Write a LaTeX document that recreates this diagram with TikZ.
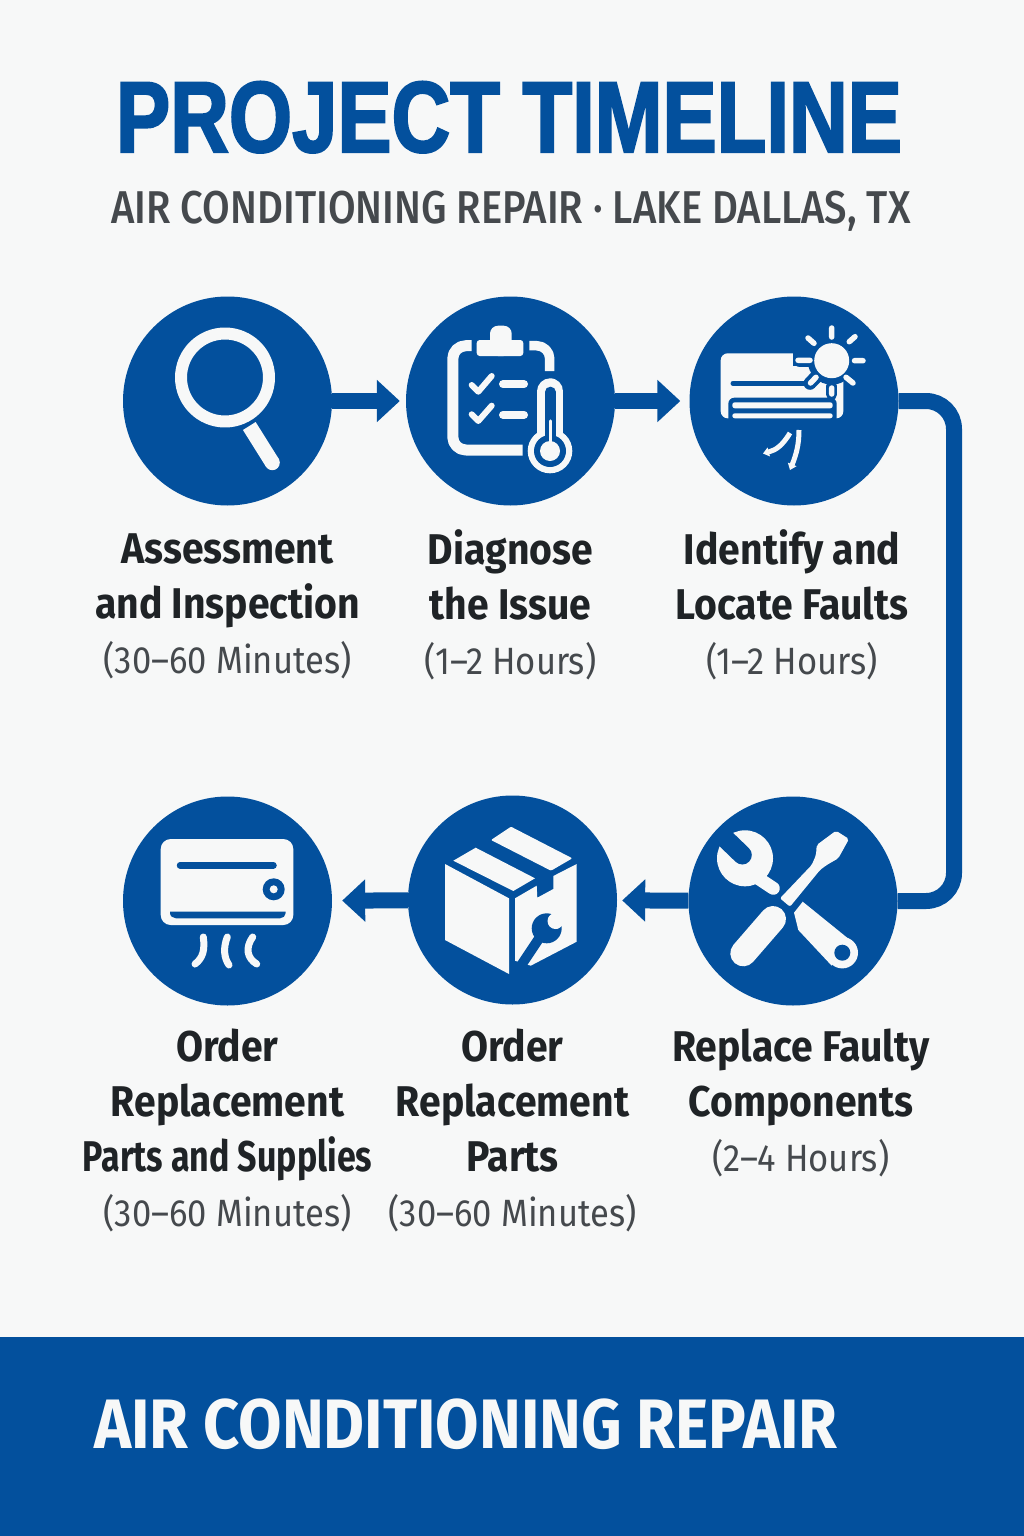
\documentclass[tikz,border=0pt]{standalone}
\usepackage{fontspec}
\usetikzlibrary{arrows.meta,positioning}
\definecolor{brand}{HTML}{03509D}
\definecolor{paper}{HTML}{F7F8F8}
\definecolor{ink}{HTML}{1F2326}
\definecolor{subink}{HTML}{45494D}
\newfontfamily\titlefont[FakeStretch=0.805,FakeBold=2]{Liberation Sans}
\newfontfamily\bannerfont[FakeStretch=0.90]{Fira Sans}
\newfontfamily\subfont[FakeStretch=0.87]{Fira Sans Medium}
\newfontfamily\labelfont[FakeStretch=0.91]{Fira Sans}
\newfontfamily\tightfont[FakeStretch=0.79]{Fira Sans}
\newcommand{\timing}[1]{{\mdseries\color{subink}\fontsize{38}{55}\selectfont #1}}

\begin{document}
\begin{tikzpicture}[x=1pt,y=-1pt]
      \tikzstyle{stage} = [circle, fill=brand, inner sep=0pt, minimum size=209pt]
      \tikzstyle{flow} = [draw=brand, line width=16pt, -{Triangle[length=23pt,width=41pt]}]
      \tikzstyle{elbow} = [draw=brand, line width=16pt, rounded corners=28pt]
      \tikzstyle{caption} = [align=center, text=ink, font=\labelfont\bfseries\fontsize{43}{55}\selectfont, inner sep=0pt]
      \tikzstyle{glyph} = [fill=paper]
      \tikzstyle{stroke} = [draw=paper, line cap=round, line join=round]
      \tikzstyle{cut} = [draw=brand, line cap=round, line join=round]

      \fill[paper] (0,0) rectangle (1024,1536);
      \fill[brand] (0,1337) rectangle (1024,1536);

      \node[anchor=base, text=brand, font=\titlefont\bfseries\fontsize{101}{110}\selectfont, inner sep=0pt] (title) at (509,152) {PROJECT TIMELINE};
      \node[anchor=base, text=subink, font=\subfont\fontsize{46}{50}\selectfont, inner sep=0pt] (subtitle) at (511,223) {AIR CONDITIONING REPAIR · LAKE DALLAS, TX};
      \node[anchor=base west, text=paper, font=\bannerfont\fontsize{70}{74}\selectfont\bfseries, inner sep=0pt] (banner) at (94,1448) {AIR CONDITIONING REPAIR};

      \node[stage] (n1) at (227.5,401) {};
      \node[stage] (n2) at (510.5,401) {};
      \node[stage] (n3) at (794,401) {};
      \node[stage] (n4) at (227.5,901) {};
      \node[stage] (n5) at (512.5,900) {};
      \node[stage] (n6) at (793,901) {};

      \coordinate (turn1) at (954,401);
      \coordinate (turn2) at (954,901);

      \draw[flow, shorten >=6pt] (n1) -- (n2);
      \draw[flow, shorten >=9pt] (n2) -- (n3);
      \draw[elbow] (n3) -- (turn1) -- (turn2) -- (n6);
      \draw[flow, shorten >=5pt] (n6) -- (n5);
      \draw[flow, shorten >=10pt] (n5) -- (n4);

      \node[caption, below=28pt of n1] (l1) {Assessment\\and Inspection\\\timing{(30–60 Minutes)}};
      \node[caption, below=24pt of n2] (l2) {Diagnose\\the Issue\\\timing{(1–2 Hours)}};
      \node[caption, below=24pt of n3, xshift=-2pt] (l3) {Identify and\\Locate Faults\\\timing{(1–2 Hours)}};
      \node[caption, below=23pt of n4] (l4) {Order\\Replacement\\{\tightfont\bfseries Parts and Supplies}\\\timing{(30–60 Minutes)}};
      \node[caption, below=24pt of n5] (l5) {Order\\Replacement\\Parts\\\timing{(30–60 Minutes)}};
      \node[caption, below=23pt of n6, xshift=8pt] (l6) {Replace Faulty\\Components\\\timing{(2–4 Hours)}};

      \draw[stroke, line width=12pt] (225,377.5) circle (44pt);
      \draw[draw=paper, line width=15pt] (249.3,426) -- (272.3,462.7);
      \fill[glyph] (272.3,462.7) circle (7.5pt);

      \draw[stroke, line width=11pt, line cap=butt, rounded corners=13pt] (522.7,450) -- (452.8,450) -- (452.8,345.7) -- (471.7,345.7);
      \draw[stroke, line width=9.5pt, line cap=butt, rounded corners=13pt] (529.3,345.7) -- (549.7,345.7) -- (549.7,371);
      \fill[glyph, rounded corners=3pt] (476.7,340) rectangle (523.3,356);
      \fill[glyph, rounded corners=8pt] (490,356) rectangle (511.7,325.7);
      \draw[stroke, line width=6pt] (471.7,385) -- (478.3,391.7) -- (491.7,376);
      \draw[stroke, line width=6pt] (471.7,414.3) -- (478.3,421) -- (491.7,405.7);
      \draw[stroke, line width=8pt] (503,384.2) -- (524,384.2);
      \draw[stroke, line width=8pt] (503,414.8) -- (524,414.8);
      \draw[stroke, line width=26pt] (550.3,391.3) -- (550.3,440);
      \fill[glyph] (550,451) circle (22.3pt);
      \draw[cut, line width=10.7pt] (550.3,392) -- (550.3,440);
      \fill[brand] (550,451) circle (16pt);
      \fill[glyph] (550,451) circle (10pt);
      \draw[stroke, line width=3.5pt] (550.3,421) -- (550.3,445);

      \fill[glyph, rounded corners=7pt] (720.7,353.3) rectangle (843.3,418.3);
      \fill[brand] (793.3,350) rectangle (846,366);
      \fill[brand] (820,350) rectangle (846,373);
      \fill[brand] (831.7,360.7) circle (24pt);
      \draw[cut, line width=14pt] (800,360.3) -- (812,360.3);
      \draw[cut, line width=13pt] (810,383.3) -- (818,375);
      \draw[cut, line width=11pt] (831.7,386) -- (831.7,394.5);
      \draw[cut, line width=5pt] (733,383.3) -- (806.7,383.3);
      \fill[brand, rounded corners=6pt] (728.3,397.7) rectangle (836.7,424);
      \fill[glyph, rounded corners=2.5pt] (732.3,402.3) rectangle (832.7,408.3);
      \fill[glyph, rounded corners=2.5pt] (732.3,413.3) rectangle (832.7,418.3);
      \fill[glyph] (831.7,360.7) circle (17.5pt);
      \draw[stroke, line width=5.5pt] (831.7,328) -- (831.7,337) (854.5,360.7) -- (863,360.7) (798,360.3) -- (810,360.3) (808,338) -- (814,343.3) (849.3,341.7) -- (855,336.7) (810.5,383) -- (816,377.3) (846,377.3) -- (853,383) (831.7,388) -- (831.7,394);
      \draw[stroke, line width=5pt, line cap=butt, -{Triangle[length=6pt,width=9pt]}] (790,433) .. controls (782,446) and (776,450) .. (763,453.5);
      \draw[stroke, line width=5pt, line cap=butt, -{Triangle[length=6pt,width=9pt]}] (799,430) .. controls (799,445) and (796,455) .. (790,470);

      \fill[glyph, rounded corners=10pt] (160.7,839) rectangle (293.3,925);
      \draw[cut, line width=6.5pt] (180,865.3) -- (273.5,865.3);
      \fill[brand] (273.7,889.3) circle (11pt);
      \fill[glyph] (273.7,889.3) circle (4pt);
      \fill[brand] (170,911.7) -- (285.7,911.7) -- (285.7,913) .. controls (285.7,916) and (283,918.3) .. (280,918.3) -- (176,918.3) .. controls (173,918.3) and (170,916) .. (170,913) -- cycle;
      \draw[stroke, line width=7pt] (203.3,937) .. controls (205,950) and (203,958) .. (195,964);
      \draw[stroke, line width=7pt] (227.3,937) .. controls (223,948) and (224,958) .. (229,965);
      \draw[stroke, line width=7pt] (252.7,937) .. controls (245,948) and (247,958) .. (256.7,964);

      \fill[glyph] (445,864) -- (509,898.3) -- (509,974) -- (445,940) -- cycle;
      \fill[glyph] (515,898.3) -- (536.7,885.7) -- (537.3,897.7) -- (553.3,889) -- (553.3,876) -- (576.7,864) -- (576.7,941.7) -- (530.7,965.7) -- (515,960.7) -- cycle;
      \fill[glyph] (453.3,860.7) -- (475.7,847.7) -- (535,878.3) -- (513.3,891) -- cycle;
      \fill[glyph, rounded corners=1pt] (491,840) -- (511,826.7) -- (572.3,858.3) -- (551,870.7) -- cycle;
      \fill[brand] (546.7,928.3) circle (15pt);
      \fill[glyph] (555.5,921) circle (8pt);
      \fill[glyph] (555.5,913) -- (566,920) -- (557,929) -- cycle;
      \draw[draw=brand, line width=10pt] (540,937) -- (520,967);

      \fill[glyph] (745,858.3) circle (28pt);
      \draw[stroke, line width=13pt] (753.3,875) -- (773.3,888.3);
      \draw[cut, line width=19pt] (723.3,836.7) -- (742.3,855);
      \fill[glyph, rounded corners=2pt] (836,830.7) -- (849,839) -- (838.3,858.3) -- (826.7,865) -- (820,870) -- (790,906.7) -- (780,898.3) -- (811.7,865) -- (816,855) -- (816.7,845) -- cycle;
      \draw[stroke, line width=26pt] (773,919) -- (743.3,953.3);
      \fill[glyph] (794,912.7) -- (802.7,901.7) -- (850,940) -- (831.7,965.7) -- (798.3,930) -- cycle;
      \fill[glyph] (842.3,952.7) circle (15.7pt);
      \fill[brand] (842.3,952.7) circle (8pt);
    \end{tikzpicture}
\end{document}
